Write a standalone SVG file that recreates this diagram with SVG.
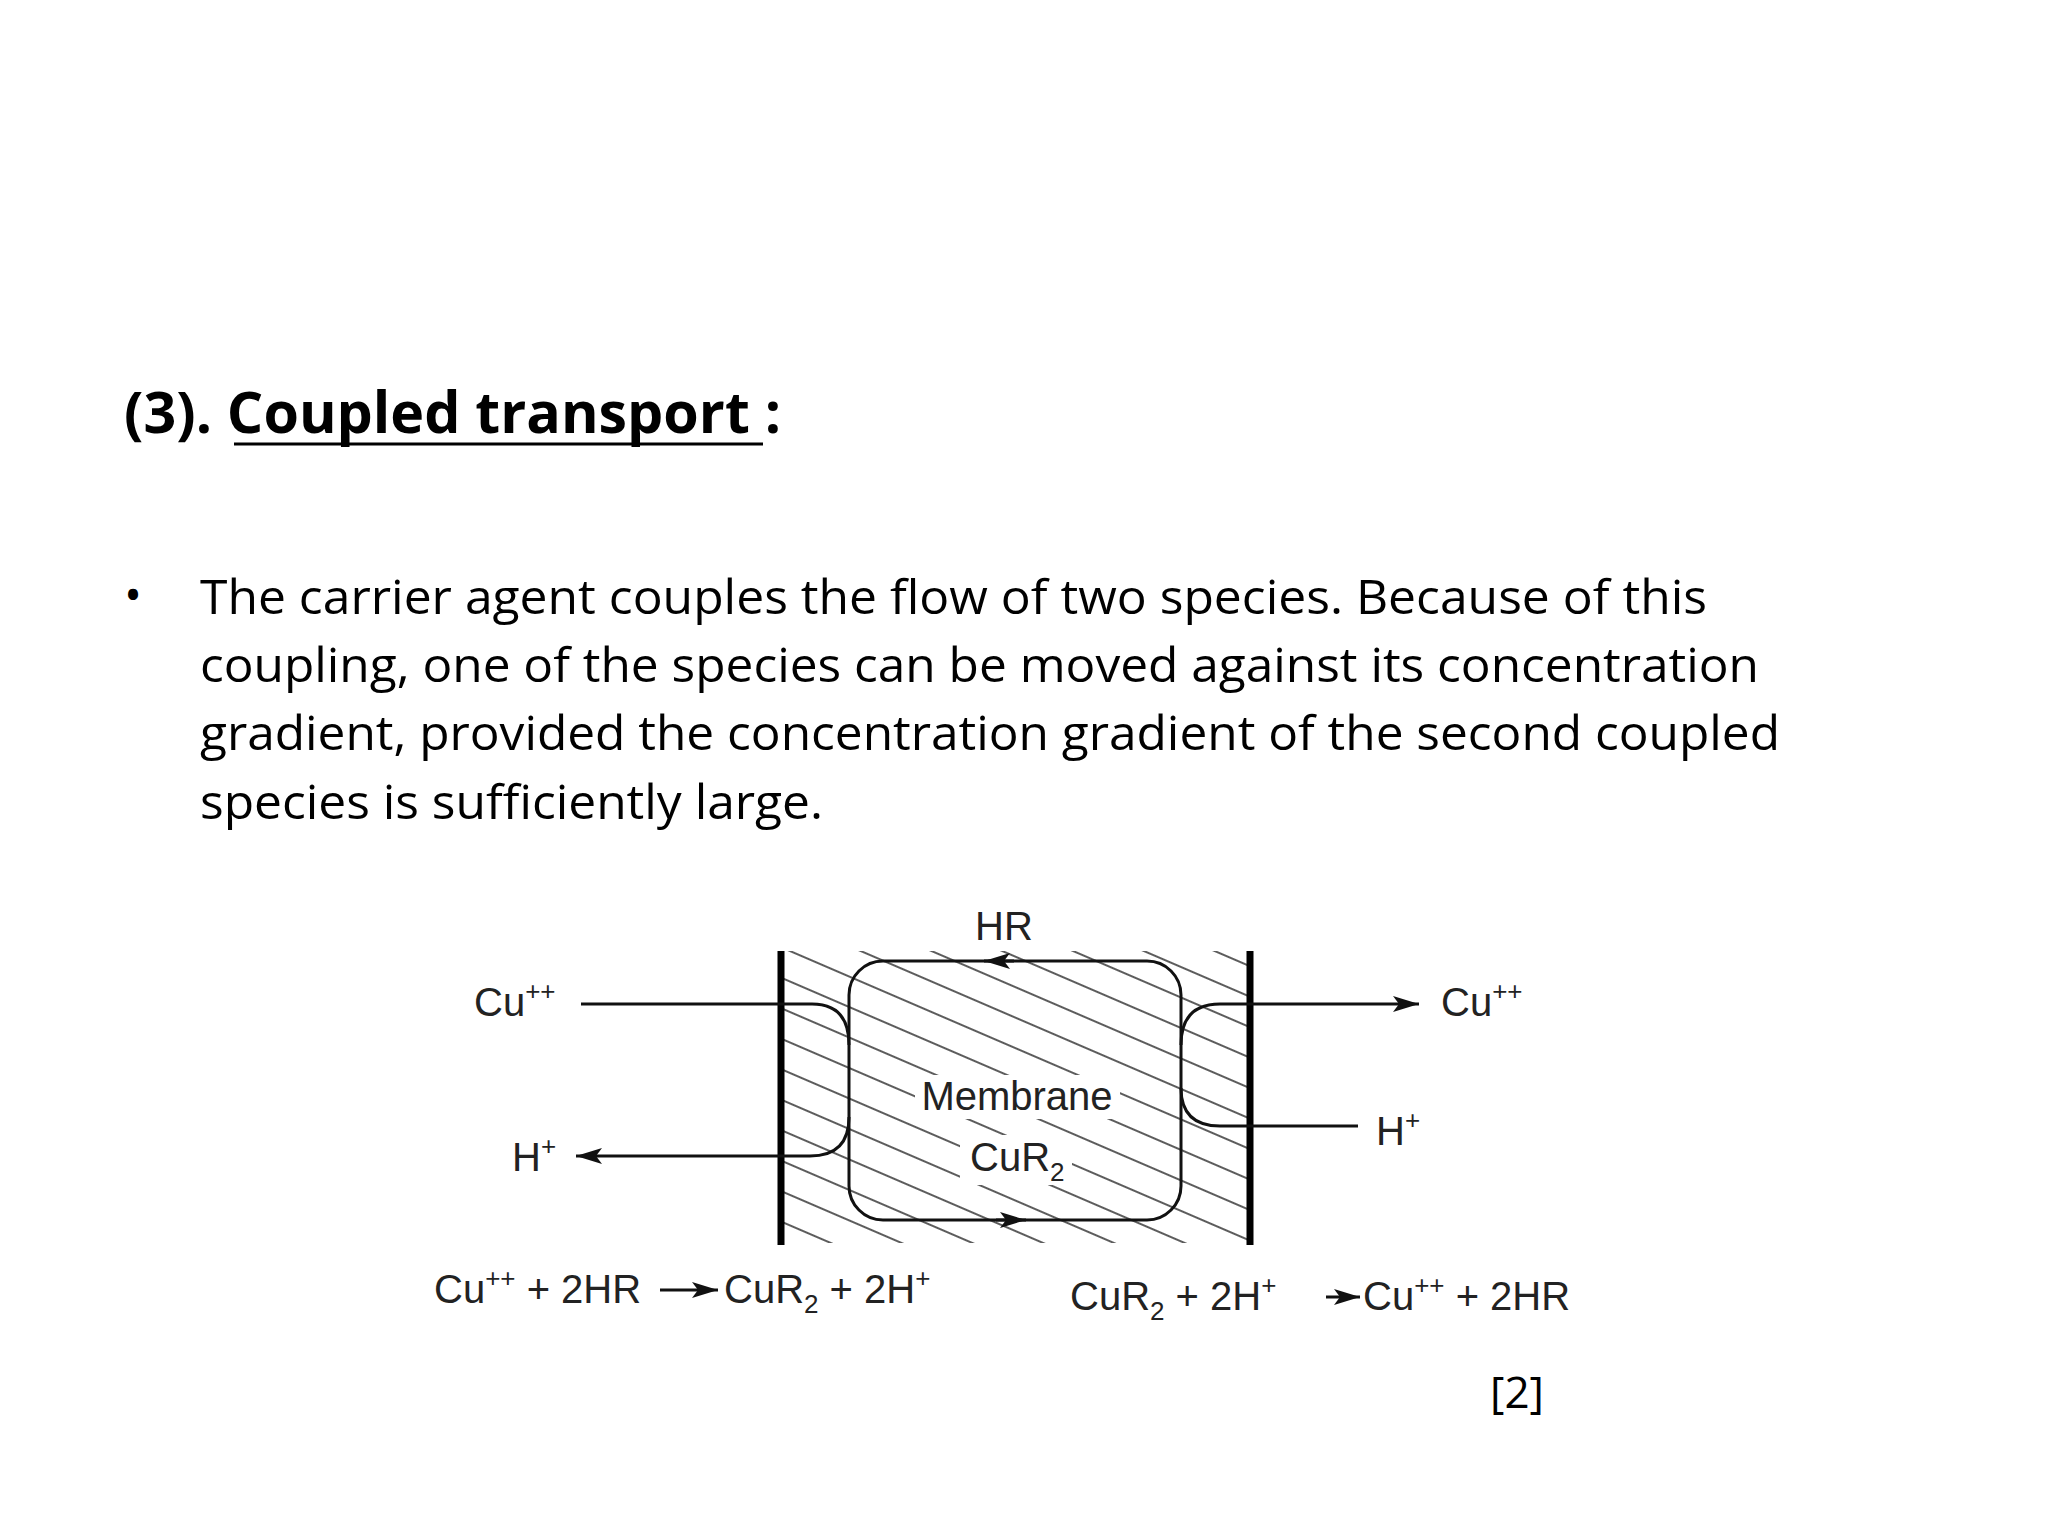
<svg xmlns="http://www.w3.org/2000/svg" width="2048" height="1536" viewBox="0 0 2048 1536">
<style>
.t{font-family:"Open Sans","Liberation Sans",sans-serif;fill:#000}
.d{font-family:"Liberation Sans",Arial,sans-serif;fill:#222;font-size:40px}
.s{font-size:26px}
.ln{fill:none;stroke:#111;stroke-width:3}
</style>
<defs>
<pattern id="h" patternUnits="userSpaceOnUse" width="20" height="28" patternTransform="rotate(23.3)">
<line x1="0" y1="1" x2="20" y2="1" stroke="#333" stroke-width="1.6"/>
</pattern>
<marker id="a" viewBox="0 0 26 16" refX="26" refY="8" markerWidth="26" markerHeight="16" markerUnits="userSpaceOnUse" orient="auto">
<path d="M0,0 L26,8 L0,16 L6,8 Z" fill="#111"/>
</marker>
</defs>
<rect width="2048" height="1536" fill="#fff"/>
<g id="title">
<text class="t" x="124" y="433" font-size="58" font-weight="bold" textLength="657" lengthAdjust="spacingAndGlyphs">(3). Coupled transport :</text>
<line x1="234" y1="444" x2="763" y2="444" stroke="#000" stroke-width="3"/>
</g>
<g id="body" class="t" font-size="48">
<text x="124" y="612">•</text>
<text x="200" y="614" textLength="1507" lengthAdjust="spacingAndGlyphs">The carrier agent couples the flow of two species. Because of this</text>
<text x="200" y="682" textLength="1559" lengthAdjust="spacingAndGlyphs">coupling, one of the species can be moved against its concentration</text>
<text x="200" y="750" textLength="1580" lengthAdjust="spacingAndGlyphs">gradient, provided the concentration gradient of the second coupled</text>
<text x="200" y="819" textLength="623" lengthAdjust="spacingAndGlyphs">species is sufficiently large.</text>
</g>
<g id="membrane">
<rect x="781" y="951" width="469" height="292" fill="url(#h)"/>
<line x1="781" y1="951" x2="781" y2="1245" stroke="#000" stroke-width="7"/>
<line x1="1250" y1="951" x2="1250" y2="1245" stroke="#000" stroke-width="7"/>
</g>
<g id="carrier">
<rect x="849" y="961" width="332" height="259" rx="34" class="ln"/>
<rect x="915" y="1075" width="205" height="44" fill="#fff"/>
<rect x="960" y="1135" width="112" height="50" fill="#fff"/>
<text class="d" x="1017" y="1110" text-anchor="middle">Membrane</text>
<text class="d" x="970" y="1171">CuR<tspan class="s" dy="10">2</tspan></text>
</g>
<g id="connectors">
<path class="ln" d="M581,1004 H812 Q849,1004 849,1045"/>
<path class="ln" d="M849,1117 Q849,1156 810,1156 H576" marker-end="url(#a)"/>
<path class="ln" d="M1181,1045 Q1181,1004 1220,1004 H1419" marker-end="url(#a)"/>
<path class="ln" d="M1358,1126 H1220 Q1181,1126 1181,1088"/>
<path d="M1014,961 H984" class="ln" marker-end="url(#a)"/>
<path d="M996,1220 H1026" class="ln" marker-end="url(#a)"/>
</g>
<g id="labels" class="d">
<text x="1004" y="940" text-anchor="middle">HR</text>
<text x="474" y="1016">Cu<tspan class="s" dy="-16">++</tspan></text>
<text x="512" y="1171">H<tspan class="s" dy="-16">+</tspan></text>
<text x="1441" y="1016">Cu<tspan class="s" dy="-16">++</tspan></text>
<text x="1376" y="1145">H<tspan class="s" dy="-16">+</tspan></text>
</g>
<g id="equations" class="d">
<text x="434" y="1303">Cu<tspan class="s" dy="-16">++</tspan><tspan dy="16"> + 2HR</tspan></text>
<line x1="660" y1="1290" x2="718" y2="1290" class="ln" marker-end="url(#a)"/>
<text x="724" y="1303">CuR<tspan class="s" dy="10">2</tspan><tspan dy="-10"> + 2H</tspan><tspan class="s" dy="-16">+</tspan></text>
<text x="1070" y="1310">CuR<tspan class="s" dy="10">2</tspan><tspan dy="-10"> + 2H</tspan><tspan class="s" dy="-16">+</tspan></text>
<line x1="1326" y1="1297" x2="1360" y2="1297" class="ln" marker-end="url(#a)"/>
<text x="1363" y="1310">Cu<tspan class="s" dy="-16">++</tspan><tspan dy="16"> + 2HR</tspan></text>
</g>
<text class="t" x="1490" y="1408" font-size="44">[2]</text>
</svg>
